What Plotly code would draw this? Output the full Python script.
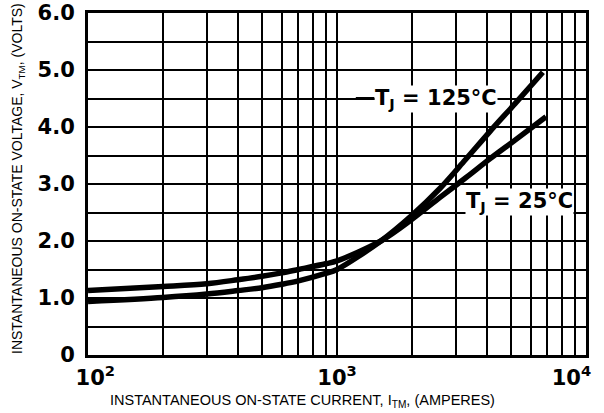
import plotly.graph_objects as go
import numpy as np

# Data
current_125 = [100, 200, 300, 400, 500, 600, 700, 900, 1000, 1500, 2000, 2600, 3270, 4110, 5190, 6710]
volts_125 = [0.94, 1.01, 1.07, 1.13, 1.18, 1.24, 1.30, 1.43, 1.50, 2.0, 2.45, 2.93, 3.42, 3.92, 4.41, 4.96]
current_25 = [100, 200, 300, 400, 500, 600, 700, 900, 1000, 1500, 2000, 2600, 3270, 4110, 5190, 6910]
volts_25 = [1.13, 1.20, 1.25, 1.32, 1.38, 1.44, 1.50, 1.60, 1.65, 2.0, 2.38, 2.77, 3.10, 3.44, 3.77, 4.18]

NB = "\u00a0"
x_grid = [m * 10 ** d for d in (2, 3) for m in range(1, 10)] + [10000]
decade_text = {100: NB * 2 + "10<sup>2</sup>", 1000: "10<sup>3</sup>",
               10000: "10<sup>4</sup>" + NB * 4}
x_ticktext = [decade_text.get(v, "") for v in x_grid]
y_grid = [i * 0.5 for i in range(13)]
y_ticktext = ["0" if v == 0 else (f"{v:.1f}" if v == int(v) else "") for v in y_grid]

label_125 = "T<sub>J</sub>" + NB + "=" + NB + "125°C"
label_25 = "T<sub>J</sub>" + NB + "=" + NB + "25°C"
x_title = "INSTANTANEOUS ON-STATE CURRENT, I<sub>TM</sub>, (AMPERES)"
y_title = "INSTANTANEOUS ON-STATE VOLTAGE, V<sub>TM</sub>, (VOLTS)"

fig = go.Figure()
fig.add_trace(go.Scatter(x=current_125, y=volts_125, mode="lines",
                         line=dict(color="black", width=5.5, shape="spline", smoothing=0.9),
                         showlegend=False, hoverinfo="skip"))
fig.add_trace(go.Scatter(x=current_25, y=volts_25, mode="lines",
                         line=dict(color="black", width=5.5, shape="spline", smoothing=0.9),
                         showlegend=False, hoverinfo="skip"))

bold = dict(family="DejaVu Sans", size=21, color="black", weight="bold")
fig.add_annotation(x=np.log10(1190), y=4.5, xref="x", yref="y",
                   text=label_125, showarrow=True, arrowhead=0,
                   arrowwidth=3, arrowcolor="black", ax=80, ay=0,
                   bgcolor="white", borderpad=0, font=bold)
fig.add_annotation(x=np.log10(5430), y=2.68, xref="x", yref="y",
                   text=label_25, showarrow=False,
                   bgcolor="white", borderpad=0, font=bold)

fig.add_annotation(x=-0.1406, y=0.5175, xref="paper", yref="paper", text=y_title,
                   textangle=-90, showarrow=False,
                   font=dict(family="Liberation Sans", size=14, color="black"),
                   xanchor="center", yanchor="middle")
fig.add_annotation(x=0.4317, y=-0.1345, xref="paper", yref="paper", text=x_title,
                   showarrow=False,
                   font=dict(family="Liberation Sans", size=14.5, color="black"),
                   xanchor="center", yanchor="middle")

fig.update_layout(
    template="none",
    width=604, height=413,
    margin=dict(l=88, r=18, t=13, b=58),
    plot_bgcolor="white", paper_bgcolor="white",
    font=dict(family="Liberation Sans", color="black"),
)
fig.update_xaxes(type="log", range=[2, 4.00001], tickvals=x_grid, ticktext=x_ticktext,
                 showgrid=True, gridcolor="black", gridwidth=2,
                 showline=True, linecolor="black", linewidth=3, mirror=True,
                 ticks="", ticklabelstandoff=2, automargin=False, zeroline=False,
                 ticklabeloverflow="allow",
                 tickfont=dict(family="DejaVu Sans", size=21, color="black", weight="bold"))
fig.update_yaxes(range=[0, 6], tickvals=y_grid, ticktext=y_ticktext,
                 showgrid=True, gridcolor="black", gridwidth=2,
                 showline=True, linecolor="black", linewidth=3, mirror=True,
                 ticks="", ticklabelstandoff=6, zeroline=False, automargin=False,
                 ticklabeloverflow="allow",
                 tickfont=dict(family="DejaVu Sans", size=21, color="black", weight="bold"))

fig.write_html("out.html", config={"displayModeBar": False},
               post_script="document.body.style.margin='0';document.body.style.overflow='hidden';")
